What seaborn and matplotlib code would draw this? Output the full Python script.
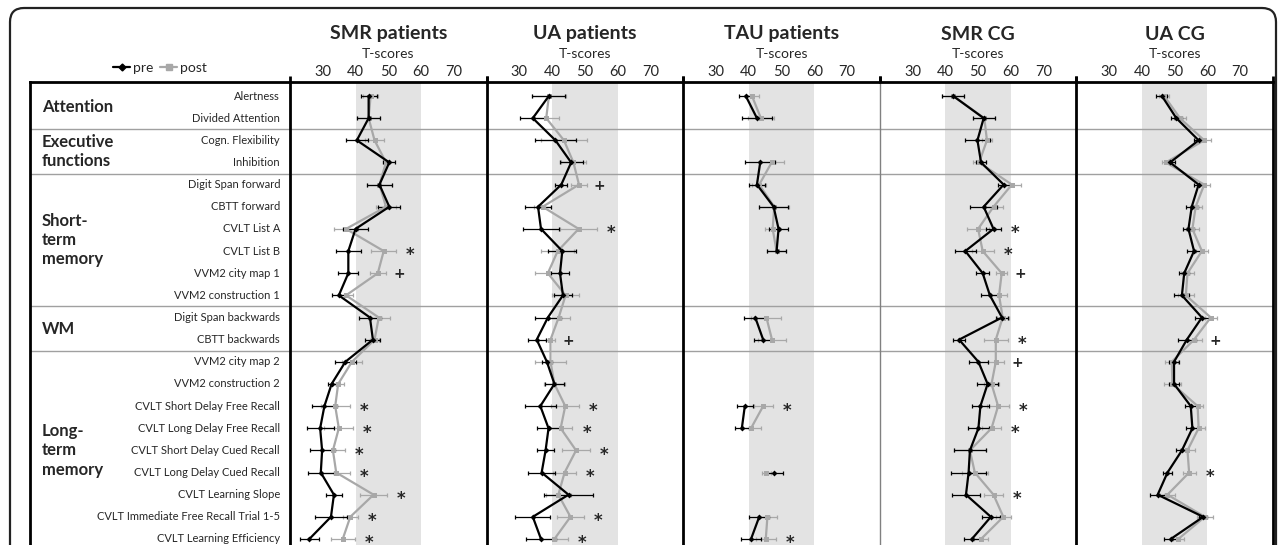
import numpy as np
import pandas as pd
import matplotlib
matplotlib.use('Agg')
import matplotlib.pyplot as plt
import matplotlib.transforms as mtransforms
from matplotlib.lines import Line2D
from matplotlib.patches import FancyBboxPatch
import seaborn as sns

nan = np.nan

tests = ['Alertness', 'Divided Attention', 'Cogn. Flexibility', 'Inhibition',
         'Digit Span forward', 'CBTT forward', 'CVLT List A', 'CVLT List B',
         'VVM2 city map 1', 'VVM2 construction 1', 'Digit Span backwards',
         'CBTT backwards', 'VVM2 city map 2', 'VVM2 construction 2',
         'CVLT Short Delay Free Recall', 'CVLT Long Delay Free Recall',
         'CVLT Short Delay Cued Recall', 'CVLT Long Delay Cued Recall',
         'CVLT Learning Slope', 'CVLT Immediate Free Recall Trial 1-5',
         'CVLT Learning Efficiency']
group_names = ['Attention', 'Executive\nfunctions', 'Short-\nterm\nmemory', 'WM',
               'Long-\nterm\nmemory']
group_sizes = [2, 2, 6, 2, 9]

panels = ['SMR patients', 'UA patients', 'TAU patients', 'SMR CG', 'UA CG']

# T-scores (means) and error bars
smr_pre = [44.0, 44.0, 40.4, 50.3, 47.3, 50.3, 40.0, 37.8, 37.8, 34.9, 44.4,
           45.3, 36.9, 32.7, 30.5, 29.2, 29.8, 29.4, 33.4, 32.5, 25.9]
smr_pre_err = [2.4, 3.5, 3.3, 1.8, 3.8, 3.3, 3.7, 3.9, 3.0, 2.1, 3.4,
               2.3, 3.3, 1.2, 3.7, 4.1, 3.8, 3.9, 2.4, 4.9, 2.9]
smr_post = [44.6, 44.0, 45.8, 49.3, 47.3, 49.3, 37.1, 48.6, 46.8, 37.1, 47.1,
            45.8, 38.9, 34.7, 33.8, 34.9, 33.1, 34.1, 45.5, 38.4, 36.1]
smr_post_err = [2.4, 3.5, 2.8, 1.0, 3.8, 3.0, 3.6, 3.8, 2.5, 2.0, 3.3,
                1.5, 3.0, 1.8, 4.4, 4.4, 3.6, 4.3, 4.1, 2.3, 3.6]

ua_pre = [39.0, 34.1, 41.0, 45.8, 42.8, 35.7, 36.6, 43.1, 42.4, 43.3, 38.7,
          35.3, 38.4, 40.7, 36.4, 38.9, 38.0, 36.8, 45.0, 34.1, 36.6]
ua_pre_err = [5.0, 4.0, 6.3, 3.5, 1.8, 4.1, 5.5, 4.3, 2.7, 2.8, 3.9,
              2.7, 1.5, 2.8, 4.7, 3.6, 2.7, 4.2, 7.4, 5.3, 4.5]
ua_post = [39.0, 38.2, 43.6, 46.5, 48.2, 37.1, 48.1, 41.7, 38.7, 44.1, 42.0,
           39.5, 39.5, 40.7, 44.0, 42.6, 47.3, 43.8, 41.9, 45.6, 40.7]
ua_post_err = [5.1, 3.8, 6.9, 3.9, 2.3, 2.7, 5.6, 5.1, 4.0, 4.0, 3.4,
               1.5, 4.8, 3.2, 4.3, 3.6, 4.2, 3.6, 3.8, 4.1, 4.2]

tau_pre = [39.1, 42.5, nan, 43.5, 42.5, 47.6, 49.1, 48.5, nan, nan, 42.0,
           44.4, nan, nan, 38.8, 37.9, nan, 47.8, nan, 43.2, 40.7]
tau_pre_err = [2.2, 4.6, nan, 4.6, 2.5, 4.5, 2.9, 2.9, nan, nan, 3.4,
               2.8, nan, nan, 2.5, 2.2, nan, 2.6, nan, 3.1, 3.0]
tau_post = [41.0, 43.7, nan, 47.0, 43.2, 47.8, 47.3, 48.5, nan, nan, 45.4,
            47.1, nan, nan, 44.4, 40.7, nan, 45.4, nan, 45.7, 45.2]
tau_post_err = [2.0, 4.0, nan, 3.7, 2.1, 4.6, 2.2, 3.0, nan, nan, 4.6,
                4.4, nan, nan, 2.9, 3.0, nan, 1.3, nan, 2.8, 3.1]

smrcg_pre = [42.4, 51.7, 49.8, 50.9, 57.8, 51.7, 54.7, 46.1, 51.4, 53.6, 57.3,
             44.2, 50.1, 52.9, 50.7, 50.1, 47.5, 47.1, 46.3, 53.9, 48.1]
smrcg_pre_err = [3.4, 3.4, 3.8, 1.5, 1.8, 4.2, 2.4, 3.2, 2.0, 2.8, 1.9,
                 1.9, 2.8, 3.1, 2.6, 3.1, 4.8, 5.3, 4.2, 2.8, 2.4]
smrcg_post = [42.4, 51.9, 52.7, 50.3, 60.3, 54.7, 50.0, 51.4, 57.2, 56.4, 57.5,
              55.4, 55.4, 54.1, 56.1, 54.1, 47.5, 49.0, 54.7, 57.7, 50.9]
smrcg_post_err = [3.4, 3.4, 1.5, 2.0, 2.8, 2.8, 3.3, 3.3, 1.6, 2.4, 1.8,
                  3.6, 2.5, 2.3, 3.3, 2.9, 4.8, 4.0, 2.8, 2.3, 2.0]

uacg_pre = [46.1, 50.5, 57.3, 48.6, 57.3, 55.2, 54.2, 55.9, 52.9, 52.2, 58.3,
            53.7, 49.8, 49.8, 54.9, 55.4, 52.2, 47.8, 44.8, 58.7, 48.8]
uacg_pre_err = [1.7, 1.7, 1.3, 1.5, 1.4, 1.8, 1.8, 2.0, 1.6, 2.3, 2.2,
                2.8, 1.5, 1.5, 1.9, 2.0, 1.9, 1.4, 2.3, 1.3, 2.0]
uacg_post = [46.8, 51.6, 59.0, 47.3, 59.0, 56.4, 55.4, 58.3, 53.9, 53.4, 61.0,
             55.9, 49.1, 49.3, 57.0, 57.3, 53.9, 54.4, 47.8, 59.2, 51.1]
uacg_post_err = [1.5, 1.8, 2.1, 1.3, 1.9, 1.8, 1.9, 1.8, 2.0, 2.4, 1.8,
                 2.5, 2.0, 2.5, 1.7, 1.8, 2.4, 2.0, 2.4, 2.5, 1.6]

# significance marks: (test index, symbol)
smr_sig = [(7, '*'), (8, '+'), (14, '*'), (15, '*'), (16, '*'), (17, '*'),
           (18, '*'), (19, '*'), (20, '*')]
ua_sig = [(4, '+'), (6, '*'), (11, '+'), (14, '*'), (15, '*'), (16, '*'),
          (17, '*'), (19, '*'), (20, '*')]
tau_sig = [(14, '*'), (20, '*')]
smrcg_sig = [(6, '*'), (7, '*'), (8, '+'), (11, '*'), (12, '+'), (14, '*'),
             (15, '*'), (18, '*')]
uacg_sig = [(11, '+'), (17, '*')]

panel_data = [
    (smr_pre, smr_pre_err, smr_post, smr_post_err, smr_sig),
    (ua_pre, ua_pre_err, ua_post, ua_post_err, ua_sig),
    (tau_pre, tau_pre_err, tau_post, tau_post_err, tau_sig),
    (smrcg_pre, smrcg_pre_err, smrcg_post, smrcg_post_err, smrcg_sig),
    (uacg_pre, uacg_pre_err, uacg_post, uacg_post_err, uacg_sig),
]

PRE_C = 'black'
POST_C = '#a8a8a8'
SEP_C = '#a0a0a0'

sns.set_style('white')
plt.rcParams['font.family'] = ['Lato', 'DejaVu Sans']

W, H = 1281, 545
fig = plt.figure(figsize=(W / 100, H / 100), dpi=100)

top_px = 82
row0_px = 96
row_step = 22.15
ylim = ((H - row0_px) / row_step, -(row0_px - top_px) / row_step)
ax_h = (H - top_px) / H

# group separators
bounds = np.cumsum(group_sizes)[:-1] - 0.5


def segments(vals):
    # id per run of non-missing values, so lines break at gaps
    seg = []
    k = 0
    prev = False
    for v in vals:
        ok = not np.isnan(v)
        if ok and not prev:
            k += 1
        seg.append(k if ok else -1)
        prev = ok
    return seg


# label column
ax_lab = fig.add_axes([30 / W, 0, 260 / W, ax_h])
ax_lab.set_xlim(0, 1)
ax_lab.set_ylim(*ylim)
ax_lab.set_xticks([])
ax_lab.set_yticks([])
for s in ['right', 'bottom']:
    ax_lab.spines[s].set_visible(False)
for s in ['left', 'top']:
    ax_lab.spines[s].set_linewidth(2)
    ax_lab.spines[s].set_color('black')
for b in bounds:
    ax_lab.axhline(b, color=SEP_C, lw=1)
for i, t in enumerate(tests):
    ax_lab.text(0.962, i, t, ha='right', va='center', fontsize=8.0)
start = 0
for g, n in zip(group_names, group_sizes):
    mid = start + (n - 1) / 2
    ax_lab.text(0.046, mid, g, ha='left', va='center', fontsize=12,
                fontweight='bold', linespacing=1.25)
    start += n

edges = np.linspace(290, 1273, 6)
rows = np.arange(len(tests))

for p, (name, (pre, pre_e, post, post_e, sig)) in enumerate(zip(panels, panel_data)):
    left = edges[p]
    width = edges[p + 1] - edges[p]
    ax = fig.add_axes([left / W, 0, width / W, ax_h])
    ax.axvspan(40, 60, color='#e3e3e3', lw=0, zorder=0)
    for b in bounds:
        ax.axhline(b, color=SEP_C, lw=1, zorder=1)

    for vals, errs, col, mk, ms in [(post, post_e, POST_C, 's', 3.6),
                                    (pre, pre_e, PRE_C, 'D', 3.0)]:
        df = pd.DataFrame({'score': vals, 'row': rows, 'seg': segments(vals)})
        df = df[df['seg'] >= 0]
        ax.errorbar(df['score'], df['row'],
                    xerr=np.asarray(errs)[df['row'].values],
                    fmt='none', ecolor=col, elinewidth=0.9, capsize=1.6,
                    capthick=0.9, zorder=3)
        sns.lineplot(data=df, x='score', y='row', units='seg', estimator=None,
                     sort=False, orient='y', color=col, marker=mk,
                     markersize=ms, markeredgewidth=0, lw=1.6, ax=ax,
                     legend=False, zorder=4)

    for i, sym in sig:
        right = np.nanmax([pre[i] + pre_e[i], post[i] + post_e[i]])
        if sym == '*':
            ax.text(right + 4.3, i + 0.2, sym, ha='center', va='center',
                    fontsize=12, fontweight='bold', family='DejaVu Sans')
        else:
            ax.text(right + 4.0, i + 0.05, sym, ha='center', va='center',
                    fontsize=10, fontweight='bold', family='DejaVu Sans')

    ax.set_xlim(20, 80)
    ax.set_ylim(*ylim)
    ax.set_xlabel('')
    ax.set_ylabel('')
    ax.set_yticks([])
    ax.set_xticks([30, 40, 50, 60, 70])
    ax.set_xticks([20, 80], minor=True)
    ax.xaxis.set_ticks_position('top')
    ax.tick_params(axis='x', which='major', length=0, pad=2, labelsize=10.5,
                   top=True, labeltop=True, bottom=False, labelbottom=False)
    ax.tick_params(axis='x', which='minor', length=4, width=2, direction='out',
                   top=True, bottom=False, color='black')
    ax.spines['bottom'].set_visible(False)
    ax.spines['right'].set_visible(p == len(panels) - 1)
    for s in ['top', 'left', 'right']:
        ax.spines[s].set_linewidth(2)
        ax.spines[s].set_color('black')
    if name == 'SMR CG':
        ax.spines['left'].set_linewidth(1)
        ax.spines['left'].set_color('#808080')

    cx = (left + width / 2) / W
    fig.text(cx, 1 - 34 / H, name, ha='center', va='center', fontsize=14,
             fontweight='bold')
    fig.text(cx, 1 - 54 / H, 'T-scores', ha='center', va='center', fontsize=10)

handles = [Line2D([], [], color=PRE_C, lw=1.6, marker='D', markersize=3.5),
           Line2D([], [], color=POST_C, lw=1.6, marker='s', markersize=4)]
fig.legend(handles, ['pre', 'post'], loc='center', ncol=2, frameon=False,
           bbox_to_anchor=(160 / W, 1 - 68 / H), fontsize=10, handlelength=1.2,
           handletextpad=0.2, columnspacing=0.5)

box = FancyBboxPatch((10, -30), 1266, H - 8 + 30,
                     boxstyle='round,pad=0,rounding_size=14',
                     transform=mtransforms.IdentityTransform(),
                     fill=False, lw=1.6, ec='#222222')
fig.add_artist(box)

fig.savefig('out.png', dpi=100)
